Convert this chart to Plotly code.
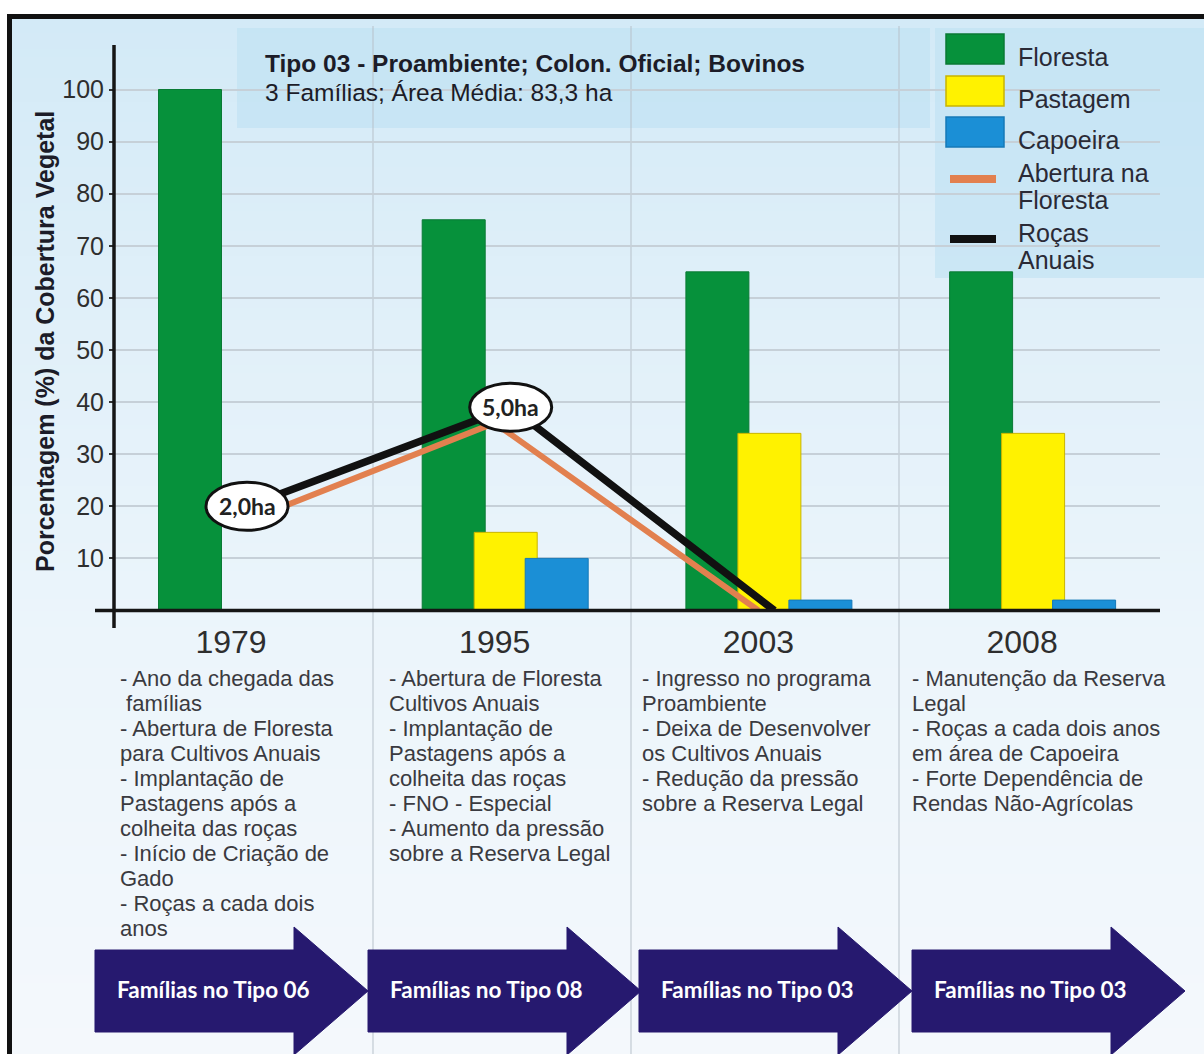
import base64
import struct
import zlib

import plotly.graph_objects as go

W, H = 1204, 1054

# ---- data -------------------------------------------------------------
years = ["1979", "1995", "2003", "2008"]
floresta = [100, 75, 65, 65]
pastagem = [None, 15, 34, 34]
capoeira = [None, 10, 2, 2]

line_years = ["1979", "1995", "2003"]
abertura_floresta = [16, 36, 0]
rocas_anuais = [20, 39, 0]
rocas_area_ha = [2.0, 5.0]

y_ticks = [10, 20, 30, 40, 50, 60, 70, 80, 90, 100]

title_main = "Tipo 03 - Proambiente; Colon. Oficial; Bovinos"
title_sub = "3 Famílias; Área Média: 83,3 ha"
y_title = "Porcentagem (%) da Cobertura Vegetal"

notes = {
    "1979": ["- Ano da chegada das", "\u00a0famílias", "- Abertura de Floresta",
             "para Cultivos Anuais", "- Implantação de", "Pastagens após a",
             "colheita das roças", "- Início de Criação de", "Gado",
             "- Roças a cada dois", "anos"],
    "1995": ["- Abertura de Floresta", "Cultivos Anuais", "- Implantação de",
             "Pastagens após a", "colheita das roças", "- FNO - Especial",
             "- Aumento da pressão", "sobre a Reserva Legal"],
    "2003": ["- Ingresso no programa", "Proambiente", "- Deixa de Desenvolver",
             "os Cultivos Anuais", "- Redução da pressão", "sobre a Reserva Legal"],
    "2008": ["- Manutenção da Reserva", "Legal", "- Roças a cada dois anos",
             "em área de Capoeira", "- Forte Dependência de", "Rendas Não-Agrícolas"],
}
arrow_labels = ["Famílias no Tipo 06", "Famílias no Tipo 08",
                "Famílias no Tipo 03", "Famílias no Tipo 03"]

# ---- styling ----------------------------------------------------------
GREEN, YELLOW, BLUE = "#06913b", "#fff200", "#1b8fd6"
ORANGE, BLACK, NAVY = "#e2804f", "#111111", "#26196f"
SANS = "Liberation Sans, Arial, sans-serif"
HUMAN = "Lato, Open Sans, sans-serif"

# plot area in pixels
PX_LEFT, PX_RIGHT = 114, 1160
PX_TOP, PX_ZERO = 45, 610.5
PX_PER_UNIT_Y = 5.21
CAT0_PX, CAT_STEP = 231, 263.7

x_range = [(PX_LEFT - CAT0_PX) / CAT_STEP, (PX_RIGHT - CAT0_PX) / CAT_STEP]
y_range = [0, (PX_ZERO - PX_TOP) / PX_PER_UNIT_Y]

BAR_W = 63 / CAT_STEP
bar_centres = {"Floresta": -41 / CAT_STEP, "Pastagem": 11 / CAT_STEP, "Capoeira": 62 / CAT_STEP}
ROCAS_SHIFT = 16 / CAT_STEP


def px(x):
    return x / W


def py(y):
    return 1 - y / H


def gradient_png(stops, h=256):
    rows = []
    for i in range(h):
        t = i / (h - 1)
        for (p0, c0), (p1, c1) in zip(stops[:-1], stops[1:]):
            if p0 <= t <= p1:
                f = (t - p0) / (p1 - p0) if p1 > p0 else 0
                rows.append(bytes(int(round(a + (b - a) * f)) for a, b in zip(c0, c1)))
                break
    raw = b"".join(b"\x00" + r for r in rows)

    def chunk(tag, data):
        return (struct.pack(">I", len(data)) + tag + data
                + struct.pack(">I", zlib.crc32(tag + data) & 0xFFFFFFFF))

    png = (b"\x89PNG\r\n\x1a\n"
           + chunk(b"IHDR", struct.pack(">IIBBBBB", 1, h, 8, 2, 0, 0, 0))
           + chunk(b"IDAT", zlib.compress(raw))
           + chunk(b"IEND", b""))
    return "data:image/png;base64," + base64.b64encode(png).decode()


fig = go.Figure()

idx = list(range(len(years)))
for name, vals, col, edge in [("Floresta", floresta, GREEN, "#0a7a35"),
                              ("Pastagem", pastagem, YELLOW, "#c9b400"),
                              ("Capoeira", capoeira, BLUE, "#1679b8")]:
    fig.add_trace(go.Bar(
        x=idx, y=vals, name=name, width=BAR_W,
        offset=bar_centres[name] - BAR_W / 2,
        marker=dict(color=col, line=dict(color=edge, width=1)),
        showlegend=False,
    ))

line_idx = list(range(len(line_years)))
fig.add_trace(go.Scatter(
    x=line_idx, y=abertura_floresta, mode="lines", name="Abertura na Floresta",
    line=dict(color=ORANGE, width=6), showlegend=False,
))
fig.add_trace(go.Scatter(
    x=[i + ROCAS_SHIFT for i in line_idx], y=rocas_anuais, mode="lines",
    name="Roças Anuais", line=dict(color=BLACK, width=7.5), showlegend=False,
))

shapes = []
annotations = []

# outer frame
shapes.append(dict(type="rect", xref="paper", yref="paper", x0=px(7), x1=px(W),
                   y0=py(14), y1=py(19), fillcolor="#111", line_width=0, layer="below"))
shapes.append(dict(type="rect", xref="paper", yref="paper", x0=px(7), x1=px(12),
                   y0=py(14), y1=py(H), fillcolor="#111", line_width=0, layer="below"))

# title and legend panels
for x0, x1, y0, y1 in [(237, 930, 28, 128), (935, W, 28, 278)]:
    shapes.append(dict(type="rect", xref="paper", yref="paper", x0=px(x0), x1=px(x1),
                       y0=py(y0), y1=py(y1), fillcolor="rgba(188,224,243,0.55)",
                       line_width=0, layer="below"))

# period separators
for xs in (373, 631, 899):
    shapes.append(dict(type="line", xref="paper", yref="paper", x0=px(xs), x1=px(xs),
                       y0=py(26), y1=py(H), line=dict(color="#b7c1ca", width=1), layer="below"))

# axis lines crossing at the origin
shapes.append(dict(type="line", xref="paper", yref="paper", x0=px(PX_LEFT), x1=px(PX_LEFT),
                   y0=py(PX_TOP), y1=py(628), line=dict(color="#151515", width=3.5)))
shapes.append(dict(type="line", xref="paper", yref="paper", x0=px(95), x1=px(PX_RIGHT),
                   y0=py(PX_ZERO), y1=py(PX_ZERO), line=dict(color="#151515", width=3.5)))

# area labels on the annual-crop line
for i, ha in enumerate(rocas_area_ha):
    xa = i + ROCAS_SHIFT
    ya = rocas_anuais[i]
    shapes.append(dict(type="circle", xref="x", yref="y", xsizemode="pixel", ysizemode="pixel",
                       xanchor=xa, yanchor=ya, x0=-41, x1=41, y0=-24, y1=24,
                       fillcolor="white", line=dict(color="#111", width=3)))
    annotations.append(dict(x=xa, y=ya, xref="x", yref="y", showarrow=False,
                            xanchor="center", yanchor="middle",
                            text=f"{ha:.1f}ha".replace(".", ","),
                            font=dict(family=HUMAN, size=23, color="#222", weight="bold")))

# titles
annotations.append(dict(x=px(263), y=py(64), xref="paper", yref="paper", xanchor="left",
                        yanchor="middle", showarrow=False, text=f"<b>{title_main}</b>",
                        font=dict(family=SANS, size=24.5, color="#1c1c28")))
annotations.append(dict(x=px(263), y=py(92), xref="paper", yref="paper", xanchor="left",
                        yanchor="middle", showarrow=False, text=title_sub,
                        font=dict(family=SANS, size=24.5, color="#1c1c28")))
annotations.append(dict(x=px(45), y=py(342), xref="paper", yref="paper", textangle=-90,
                        xanchor="center", yanchor="middle",
                        showarrow=False, text=f"<b>{y_title}</b>",
                        font=dict(family=SANS, size=25, color="#1c1c28")))

# legend drawn as a panel
legend_boxes = [("Floresta", GREEN, "#0a7a35", 34, 64), ("Pastagem", YELLOW, "#c9b400", 76, 106),
                ("Capoeira", BLUE, "#1679b8", 117, 147)]
for name, col, edge, y0, y1 in legend_boxes:
    shapes.append(dict(type="rect", xref="paper", yref="paper", x0=px(946), x1=px(1004),
                       y0=py(y0), y1=py(y1), fillcolor=col, line=dict(color=edge, width=1.5)))
    annotations.append(dict(x=px(1016), y=py((y0 + y1) / 2 + 8), xref="paper", yref="paper",
                            xanchor="left", yanchor="middle", showarrow=False, text=name,
                            font=dict(family=SANS, size=25, color="#2a2a36")))
legend_lines = [(["Abertura na", "Floresta"], ORANGE, 179, 173),
                (["Roças", "Anuais"], BLACK, 239, 233)]
for words, col, yl, yt in legend_lines:
    shapes.append(dict(type="line", xref="paper", yref="paper", x0=px(950), x1=px(996),
                       y0=py(yl), y1=py(yl), line=dict(color=col, width=8)))
    for k, w in enumerate(words):
        annotations.append(dict(x=px(1016), y=py(yt + 27 * k), xref="paper", yref="paper",
                                xanchor="left", yanchor="middle", showarrow=False, text=w,
                                font=dict(family=SANS, size=25, color="#2a2a36")))

# notes under each period
note_x = {"1979": 118, "1995": 387, "2003": 640, "2008": 910}
for yr in years:
    for k, line in enumerate(notes[yr]):
        annotations.append(dict(x=px(note_x[yr]), y=py(678 + 25 * k), xref="paper", yref="paper",
                                xanchor="left", yanchor="middle", showarrow=False, text=line,
                                font=dict(family=SANS, size=22, color="#3a3a40")))

# timeline arrows
arrow_x = [95, 368, 639, 912]
for x0, label in zip(arrow_x, arrow_labels):
    xh, tip = x0 + 199, x0 + 273
    pts = [(x0, 950), (xh, 950), (xh, 927), (tip, 991), (xh, 1055), (xh, 1032), (x0, 1032)]
    path = "M " + " L ".join(f"{px(a):.5f},{py(b):.5f}" for a, b in pts) + " Z"
    shapes.append(dict(type="path", xref="paper", yref="paper", path=path,
                       fillcolor=NAVY, line=dict(color=NAVY, width=1)))
    annotations.append(dict(x=px(x0 + 20), y=py(989), xref="paper", yref="paper",
                            xanchor="left", yanchor="middle", showarrow=False, text=label,
                            font=dict(family=HUMAN, size=22.5, color="white", weight="bold")))

bg = gradient_png([(0.0, (211, 234, 247)), (0.3, (225, 240, 249)),
                   (0.6, (236, 245, 251)), (1.0, (244, 248, 252))])

fig.update_layout(
    width=W, height=H, autosize=False,
    margin=dict(l=0, r=0, t=0, b=0),
    paper_bgcolor="white", plot_bgcolor="rgba(0,0,0,0)",
    barmode="overlay", showlegend=False,
    images=[dict(source=bg, xref="paper", yref="paper", x=px(12), y=py(19),
                 sizex=px(W - 12), sizey=(H - 19) / H, sizing="stretch",
                 xanchor="left", yanchor="top", layer="below")],
    xaxis=dict(domain=[px(PX_LEFT), px(PX_RIGHT)], range=x_range, tickvals=idx,
               ticktext=years, showgrid=False, zeroline=False, showline=False, ticks="",
               ticklabelstandoff=9,
               tickfont=dict(family=SANS, size=32, color="#2e2e2e")),
    yaxis=dict(domain=[py(PX_ZERO), py(PX_TOP)], range=y_range, tickvals=y_ticks,
               showgrid=True, gridcolor="#c6d0d8", gridwidth=1.5, zeroline=False,
               showline=False, ticks="outside", ticklen=4, tickwidth=2, tickcolor="#333",
               ticklabelstandoff=0,
               tickfont=dict(family=SANS, size=25, color="#2e2e2e")),
    shapes=shapes, annotations=annotations,
)

fig.write_html("out.html")
